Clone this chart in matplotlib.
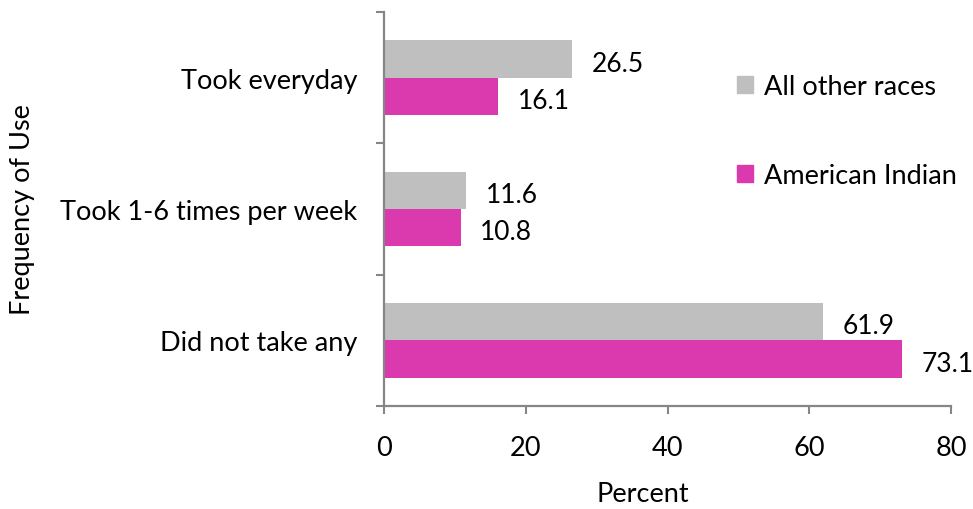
import matplotlib
matplotlib.use("Agg")
import matplotlib.pyplot as plt
import numpy as np
from matplotlib.patches import Patch

categories = ["Did not take any", "Took 1-6 times per week", "Took everyday"]
all_other = [61.9, 11.6, 26.5]
american_indian = [73.1, 10.8, 16.1]
series_names = ["All other races", "American Indian"]
xticks = [0, 20, 40, 60, 80]

gray = "#BFBFBF"
magenta = "#DA3AAD"
axis_col = "#868686"

plt.rcParams['font.family'] = ['Lato', 'DejaVu Sans']
fs = 19.5
fs_lab = 19

fig = plt.figure(figsize=(9.73, 5.10), dpi=100)
ax = fig.add_axes([384/973, 1-407/510, (951-384)/973, (407-13)/510])

y = np.arange(len(categories))
h = 0.285
ax.barh(y + h/2, all_other, height=h, color=gray)
ax.barh(y - h/2, american_indian, height=h, color=magenta)

for yi, v in zip(y, all_other):
    ax.annotate(f"{v:.1f}", (v, yi + h/2), xytext=(14, -3), textcoords="offset points",
                va="center", ha="left", fontsize=fs_lab, color="black")
for yi, v in zip(y, american_indian):
    ax.annotate(f"{v:.1f}", (v, yi - h/2), xytext=(14, -3), textcoords="offset points",
                va="center", ha="left", fontsize=fs_lab, color="black")

ax.set_xlim(0, 80)
ax.set_ylim(-0.5, len(categories) - 0.5)
ax.set_xticks(xticks)
ax.set_xticklabels([str(t) for t in xticks], fontsize=fs)
ax.set_yticks(y)
ax.set_yticklabels(categories, fontsize=fs)
ax.set_yticks(np.arange(-0.5, len(categories)), minor=True)
ax.tick_params(axis='y', which='major', length=0, pad=19)
ax.tick_params(axis='y', which='minor', length=6, width=1.5, color=axis_col, direction='out')
ax.tick_params(axis='x', which='major', length=6, width=1.5, color=axis_col, direction='out', pad=15)

for s in ['top', 'right']:
    ax.spines[s].set_visible(False)
for s in ['left', 'bottom']:
    ax.spines[s].set_color(axis_col)
    ax.spines[s].set_linewidth(1.6)

ax.set_xlabel("Percent", fontsize=fs)
ax.xaxis.set_label_coords((643-384)/(951-384), -(482-407)/394)
ax.set_ylabel("Frequency of Use", fontsize=fs)
ax.yaxis.set_label_coords(-(384-35)/567, 0.5)

handles = [Patch(color=gray, label=series_names[0]), Patch(color=magenta, label=series_names[1])]
fig.legend(handles=handles, loc='upper left', bbox_to_anchor=(737/973, 1-75/510),
           frameon=False, fontsize=fs, handlelength=0.6, handleheight=0.6,
           handletextpad=0.4, labelspacing=2.35, borderpad=0, borderaxespad=0)

fig.savefig("out.png", dpi=100)
